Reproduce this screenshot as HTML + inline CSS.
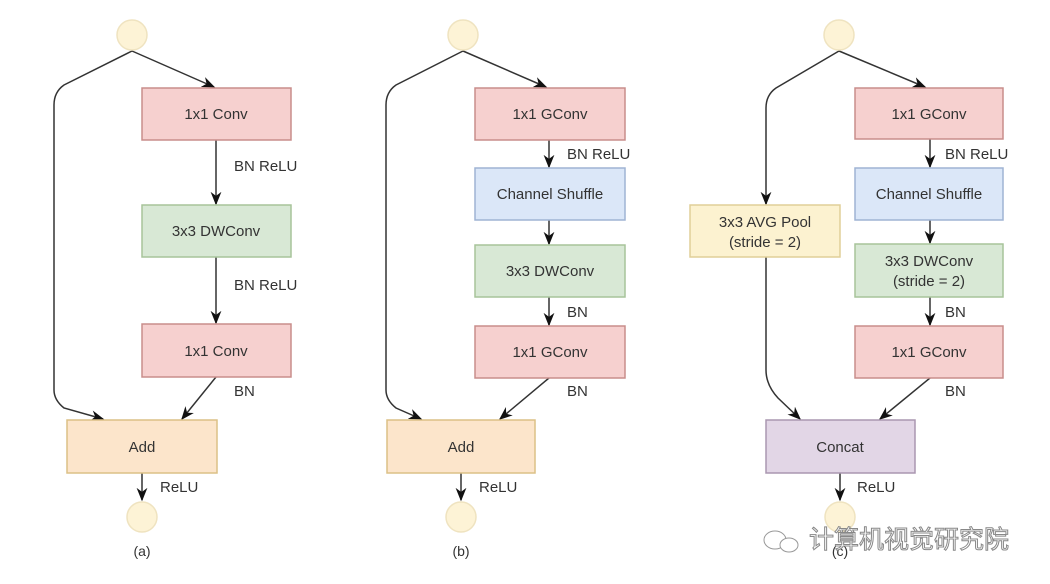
<!DOCTYPE html>
<html><head><meta charset="utf-8"><style>
html,body{margin:0;padding:0;background:#fff;width:1050px;height:584px;overflow:hidden}
svg text{font-family:"Liberation Sans",sans-serif;font-size:15px;fill:#333}
</style></head><body>
<svg width="1050" height="584" viewBox="0 0 1050 584" xmlns="http://www.w3.org/2000/svg">
<defs><marker id="ar" viewBox="0 0 10 10" refX="9" refY="5" markerWidth="9" markerHeight="9" orient="auto"><path d="M0,1 L10,5 L0,9 L3,5 Z" fill="#111"/></marker></defs>
<g fill="none" stroke="#333" stroke-width="1.5">
<!-- a -->
<path d="M132,51 L214,87" marker-end="url(#ar)"/>
<path d="M132,51 L64,85 Q54,92 54,105 L54,390 Q54,400 64,408 L103,419" marker-end="url(#ar)"/>
<path d="M216,140 L216,204" marker-end="url(#ar)"/>
<path d="M216,257 L216,323" marker-end="url(#ar)"/>
<path d="M216,377 L182,419" marker-end="url(#ar)"/>
<path d="M142,473 L142,500" marker-end="url(#ar)"/>
<!-- b -->
<path d="M463,51 L546,87" marker-end="url(#ar)"/>
<path d="M463,51 L396,85 Q386,92 386,105 L386,390 Q386,400 396,408 L421,419" marker-end="url(#ar)"/>
<path d="M549,140 L549,167" marker-end="url(#ar)"/>
<path d="M549,220 L549,244" marker-end="url(#ar)"/>
<path d="M549,297 L549,325" marker-end="url(#ar)"/>
<path d="M549,378 L500,419" marker-end="url(#ar)"/>
<path d="M461,473 L461,500" marker-end="url(#ar)"/>
<!-- c -->
<path d="M839,51 L925,87" marker-end="url(#ar)"/>
<path d="M839,51 L776,88 Q766,95 766,108 L766,204" marker-end="url(#ar)"/>
<path d="M766,257 L766,370 Q766,385 778,398 L800,419" marker-end="url(#ar)"/>
<path d="M930,139 L930,167" marker-end="url(#ar)"/>
<path d="M930,220 L930,243" marker-end="url(#ar)"/>
<path d="M930,297 L930,325" marker-end="url(#ar)"/>
<path d="M930,378 L880,419" marker-end="url(#ar)"/>
<path d="M840,473 L840,500" marker-end="url(#ar)"/>
</g>
<g stroke-width="1.5">
<circle cx="132" cy="35" r="15" fill="#fdf3d6" stroke="#efe3c0"/>
<circle cx="142" cy="517" r="15" fill="#fdf3d6" stroke="#efe3c0"/>
<circle cx="463" cy="35" r="15" fill="#fdf3d6" stroke="#efe3c0"/>
<circle cx="461" cy="517" r="15" fill="#fdf3d6" stroke="#efe3c0"/>
<circle cx="839" cy="35" r="15" fill="#fdf3d6" stroke="#efe3c0"/>
<circle cx="840" cy="517" r="15" fill="#fdf3d6" stroke="#efe3c0"/>
<g fill="#f6d0cf" stroke="#c88d8b">
<rect x="142" y="88" width="149" height="52"/>
<rect x="142" y="324" width="149" height="53"/>
<rect x="475" y="88" width="150" height="52"/>
<rect x="475" y="326" width="150" height="52"/>
<rect x="855" y="88" width="148" height="51"/>
<rect x="855" y="326" width="148" height="52"/>
</g>
<g fill="#d8e8d5" stroke="#a7c49a">
<rect x="142" y="205" width="149" height="52"/>
<rect x="475" y="245" width="150" height="52"/>
<rect x="855" y="244" width="148" height="53"/>
</g>
<g fill="#dbe7f8" stroke="#9fb4d4">
<rect x="475" y="168" width="150" height="52"/>
<rect x="855" y="168" width="148" height="52"/>
</g>
<rect x="690" y="205" width="150" height="52" fill="#fcf2d0" stroke="#e0cf98"/>
<g fill="#fce5cb" stroke="#dcc086">
<rect x="67" y="420" width="150" height="53"/>
<rect x="387" y="420" width="148" height="53"/>
</g>
<rect x="766" y="420" width="149" height="53" fill="#e2d6e6" stroke="#aa97b0"/>
</g>
<g text-anchor="middle">
<text x="216" y="119">1x1 Conv</text>
<text x="216" y="236">3x3 DWConv</text>
<text x="216" y="356">1x1 Conv</text>
<text x="142" y="452">Add</text>
<text x="550" y="119">1x1 GConv</text>
<text x="550" y="199">Channel Shuffle</text>
<text x="550" y="276">3x3 DWConv</text>
<text x="550" y="357">1x1 GConv</text>
<text x="461" y="452">Add</text>
<text x="929" y="119">1x1 GConv</text>
<text x="929" y="199">Channel Shuffle</text>
<text x="929" y="266">3x3 DWConv</text>
<text x="929" y="286">(stride = 2)</text>
<text x="765" y="227">3x3 AVG Pool</text>
<text x="765" y="247">(stride = 2)</text>
<text x="929" y="357">1x1 GConv</text>
<text x="840" y="452">Concat</text>
<text x="142" y="556" style="font-size:14px">(a)</text>
<text x="461" y="556" style="font-size:14px">(b)</text>
<text x="840" y="556" style="font-size:14px">(c)</text>
</g>
<text x="234" y="171">BN ReLU</text>
<text x="234" y="290">BN ReLU</text>
<text x="234" y="396">BN</text>
<text x="160" y="492">ReLU</text>
<text x="567" y="159">BN ReLU</text>
<text x="567" y="317">BN</text>
<text x="567" y="396">BN</text>
<text x="479" y="492">ReLU</text>
<text x="945" y="159">BN ReLU</text>
<text x="945" y="317">BN</text>
<text x="945" y="396">BN</text>
<text x="857" y="492">ReLU</text>
<g fill="#fff" stroke="#999" stroke-width="1">
<ellipse cx="775" cy="540" rx="11" ry="9"/>
<ellipse cx="789" cy="545" rx="9" ry="7"/>
</g>
<text x="809" y="548" style="font-family:'Liberation Sans','Noto Sans CJK SC',sans-serif;font-size:25px;fill:#fff;stroke:#888;stroke-width:1">计算机视觉研究院</text>
</svg>
</body></html>
